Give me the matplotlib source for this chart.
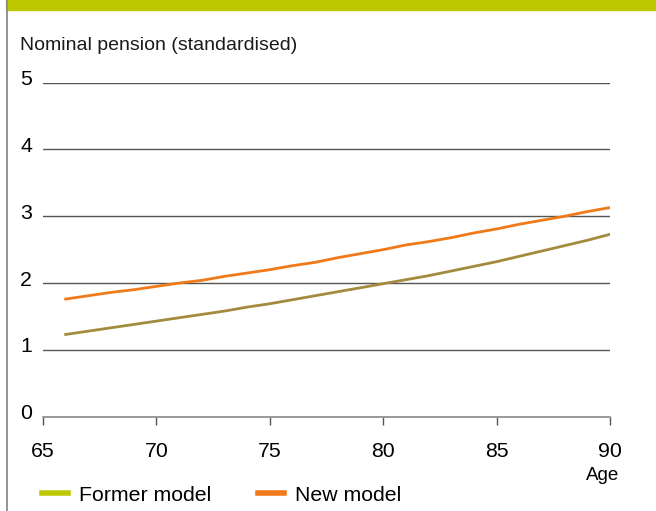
import matplotlib
matplotlib.use("Agg")
import matplotlib.pyplot as plt
import matplotlib.transforms as mtransforms
from matplotlib.lines import Line2D
from matplotlib.patches import Rectangle

plt.rcParams["font.family"] = ["Liberation Sans", "DejaVu Sans"]

# data
ages = list(range(66, 91))
former_model = [1.23, 1.28, 1.33, 1.38, 1.43, 1.48, 1.53, 1.58, 1.64, 1.69,
                1.75, 1.81, 1.87, 1.93, 1.99, 2.05, 2.11, 2.18, 2.25, 2.32,
                2.40, 2.48, 2.56, 2.64, 2.73]
new_model = [1.76, 1.81, 1.86, 1.90, 1.95, 2.00, 2.04, 2.10, 2.15, 2.20,
             2.26, 2.31, 2.38, 2.44, 2.50, 2.57, 2.62, 2.68, 2.75, 2.81,
             2.88, 2.94, 3.00, 3.07, 3.13]
x_ticks = [65, 70, 75, 80, 85, 90]
y_ticks = [0, 1, 2, 3, 4, 5]

line_former = "#a38b3e"
legend_former = "#bdc800"
orange = "#f07a19"

W, H = 656, 511
fig = plt.figure(figsize=(W / 100, H / 100), dpi=100)

# top band and left frame line
fig.patches.append(Rectangle((6 / W, 1 - 10 / H), 1, 10 / H, transform=fig.transFigure,
                             color="#bec800", zorder=0))
fig.add_artist(Line2D([6.5 / W, 6.5 / W], [0, 1], transform=fig.transFigure,
                      color="#8c8c8c", lw=1.3))

ax = fig.add_axes([43 / W, 1 - 416.6 / H, (610 - 43) / W, (416.6 - 82.7) / H])
ax.set_xlim(65, 90)
ax.set_ylim(0, 5)

for v in y_ticks[1:]:
    ax.axhline(v, color="#555555", lw=1.0, zorder=1)

ax.plot(ages, former_model, color=line_former, lw=2.0, zorder=3)
ax.plot(ages, new_model, color=orange, lw=2.0, zorder=3)

for s in ["top", "right", "left"]:
    ax.spines[s].set_visible(False)
ax.spines["bottom"].set_color("#888888")
ax.spines["bottom"].set_linewidth(1.2)

fs = 15.3
ax.set_xticks(x_ticks)
ax.set_xticklabels([str(t) for t in x_ticks], fontsize=fs)
ax.tick_params(axis="x", length=6, width=1.0, color="#555555", pad=12.5)
ax.set_yticks(y_ticks)
ax.set_yticklabels([str(t) for t in y_ticks], fontsize=fs)
ax.tick_params(axis="y", length=0, pad=8)
offset = mtransforms.ScaledTranslation(0, 5 / 100, fig.dpi_scale_trans)
for lab in ax.get_yticklabels():
    lab.set_transform(lab.get_transform() + offset)

fig.text(20 / W, 1 - 45 / H, "Nominal pension (standardised)", fontsize=14,
         va="center", ha="left", color="#1a1a1a")
fig.text(619 / W, 1 - 475 / H, "Age", fontsize=13.5, va="center", ha="right")

handles = [Line2D([], [], color=legend_former, lw=4),
           Line2D([], [], color=orange, lw=4)]
fig.legend(handles, ["Former model", "New model"], loc="center left",
           bbox_to_anchor=(42 / W, 1 - 495 / H), ncol=2, frameon=False,
           fontsize=fs, handlelength=1.2, handletextpad=0.55, columnspacing=2.2,
           borderaxespad=0, borderpad=0)

fig.savefig("out.png", dpi=100)
